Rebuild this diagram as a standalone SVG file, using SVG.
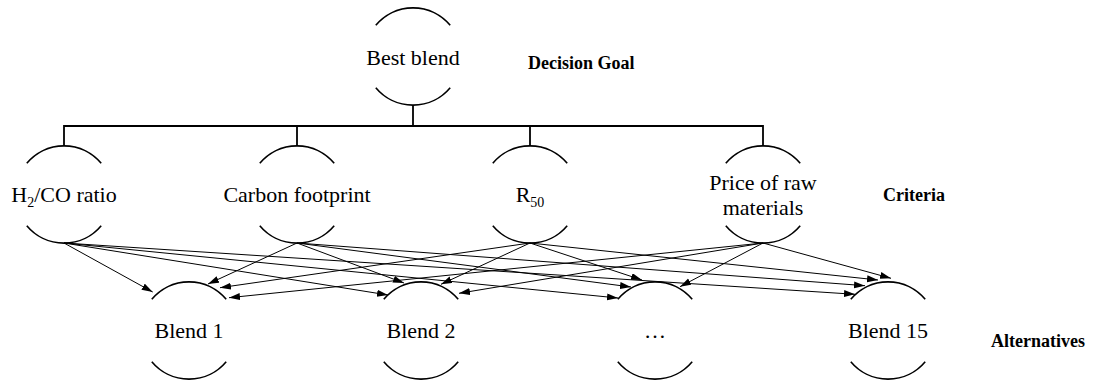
<svg xmlns="http://www.w3.org/2000/svg" width="1097" height="382" viewBox="0 0 1097 382">
<style>
.arc{fill:none;stroke:#000;stroke-width:1.6}
.t{font-family:"Liberation Serif","Times New Roman",serif;font-size:22px;fill:#000;text-anchor:middle}
.lbl{font-family:"Liberation Serif","Times New Roman",serif;font-size:18px;font-weight:bold;fill:#000}
.sub{font-size:14px}
.tree{fill:none;stroke:#000;stroke-width:1.8}
.ar{fill:none;stroke:#000;stroke-width:1;marker-end:url(#ah)}
</style>
<defs>
<marker id="ah" markerUnits="userSpaceOnUse" markerWidth="12" markerHeight="8" refX="11" refY="3.5" orient="auto">
<path d="M0,0 L11,3.5 L0,7 z" fill="#000"/>
</marker>
</defs>
<rect width="1097" height="382" fill="#fff"/>
<g id="connectors">
<path class="tree" d="M413,105 V126 M64,146 V126 H763 V146 M297,126 V146 M530,126 V146"/>
<line class="ar" x1="64" y1="243" x2="152.7" y2="292"/>
<line class="ar" x1="64" y1="243" x2="388" y2="295"/>
<line class="ar" x1="64" y1="243" x2="618" y2="298"/>
<line class="ar" x1="64" y1="243" x2="855" y2="294.3"/>
<line class="ar" x1="297" y1="243" x2="208" y2="284"/>
<line class="ar" x1="297" y1="243" x2="404" y2="283"/>
<line class="ar" x1="297" y1="243" x2="631" y2="287"/>
<line class="ar" x1="297" y1="243" x2="865" y2="285.7"/>
<line class="ar" x1="530" y1="243" x2="220" y2="287.7"/>
<line class="ar" x1="530" y1="243" x2="441" y2="284.3"/>
<line class="ar" x1="530" y1="243" x2="642" y2="280"/>
<line class="ar" x1="530" y1="243" x2="878" y2="280"/>
<line class="ar" x1="763" y1="243" x2="229" y2="297.7"/>
<line class="ar" x1="763" y1="243" x2="459" y2="293.3"/>
<line class="ar" x1="763" y1="243" x2="680" y2="286.7"/>
<line class="ar" x1="763" y1="243" x2="891" y2="278.3"/>
</g>
<g id="best" transform="translate(413,56.5)">
<path class="arc" d="M-37.2,-31.2 A48.5,48.5 0 0 1 37.2,-31.2 M-37.2,31.2 A48.5,48.5 0 0 0 37.2,31.2"/>
<text class="t" x="0" y="8">Best blend</text>
</g>
<g id="h2co" transform="translate(64,194.5)">
<path class="arc" d="M-37.2,-31.2 A48.5,48.5 0 0 1 37.2,-31.2 M-37.2,31.2 A48.5,48.5 0 0 0 37.2,31.2"/>
<text class="t" x="0" y="7">H<tspan class="sub" dy="5">2</tspan><tspan dy="-5">/CO ratio</tspan></text>
</g>
<g id="carbon" transform="translate(297,194.5)">
<path class="arc" d="M-37.2,-31.2 A48.5,48.5 0 0 1 37.2,-31.2 M-37.2,31.2 A48.5,48.5 0 0 0 37.2,31.2"/>
<text class="t" x="0" y="7">Carbon footprint</text>
</g>
<g id="r50" transform="translate(530,194.5)">
<path class="arc" d="M-37.2,-31.2 A48.5,48.5 0 0 1 37.2,-31.2 M-37.2,31.2 A48.5,48.5 0 0 0 37.2,31.2"/>
<text class="t" x="0" y="7">R<tspan class="sub" dy="5">50</tspan></text>
</g>
<g id="price" transform="translate(763,194.5)">
<path class="arc" d="M-37.2,-31.2 A48.5,48.5 0 0 1 37.2,-31.2 M-37.2,31.2 A48.5,48.5 0 0 0 37.2,31.2"/>
<text class="t" x="0" y="-5">Price of raw</text>
<text class="t" x="0" y="20.8">materials</text>
</g>
<g id="blend1" transform="translate(189,330.5)">
<path class="arc" d="M-37.2,-31.2 A48.5,48.5 0 0 1 37.2,-31.2 M-37.2,31.2 A48.5,48.5 0 0 0 37.2,31.2"/>
<text class="t" x="0" y="7.5">Blend 1</text>
</g>
<g id="blend2" transform="translate(421,330.5)">
<path class="arc" d="M-37.2,-31.2 A48.5,48.5 0 0 1 37.2,-31.2 M-37.2,31.2 A48.5,48.5 0 0 0 37.2,31.2"/>
<text class="t" x="0" y="7.5">Blend 2</text>
</g>
<g id="blendx" transform="translate(655,330.5)">
<path class="arc" d="M-37.2,-31.2 A48.5,48.5 0 0 1 37.2,-31.2 M-37.2,31.2 A48.5,48.5 0 0 0 37.2,31.2"/>
<text class="t" x="0" y="7.5">…</text>
</g>
<g id="blend15" transform="translate(888,330.5)">
<path class="arc" d="M-37.2,-31.2 A48.5,48.5 0 0 1 37.2,-31.2 M-37.2,31.2 A48.5,48.5 0 0 0 37.2,31.2"/>
<text class="t" x="0" y="7.5">Blend 15</text>
</g>
<g id="labels">
<text class="lbl" x="528" y="69">Decision Goal</text>
<text class="lbl" x="883" y="201">Criteria</text>
<text class="lbl" x="991" y="347">Alternatives</text>
</g>
</svg>
